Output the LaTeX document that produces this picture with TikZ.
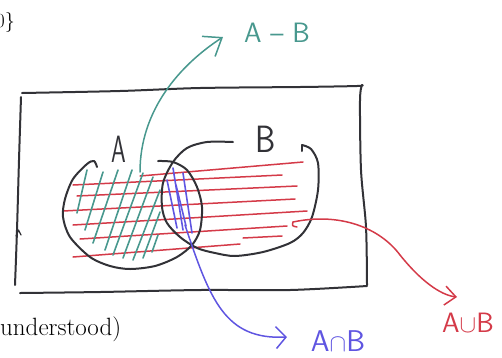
\documentclass[tikz,border=0pt]{standalone}
\usetikzlibrary{arrows.meta}
\definecolor{ink}{RGB}{50,50,55}
\definecolor{tealink}{RGB}{72,152,142}
\definecolor{redink}{RGB}{212,58,72}
\definecolor{blueink}{RGB}{95,85,225}
\begin{document}
\begin{tikzpicture}[x=1pt,y=-1pt,line cap=round,line join=round,
  outline/.style={draw=ink,line width=2pt},
  redhatch/.style={draw=redink,line width=1.5pt},
  tealhatch/.style={draw=tealink,line width=1.6pt},
  bluehatch/.style={draw=blueink,line width=1.6pt},
  hand/.style={font=\sffamily\fontsize{28}{30}\selectfont,inner sep=0pt},
  bighand/.style={font=\sffamily\fontsize{38}{40}\selectfont,inner sep=0pt},
  serif/.style={inner sep=0pt},
  arr/.style={line width=1.5pt}]
\useasboundingbox (0,0) rectangle (502,357);

% cropped text fragments
\node[serif,anchor=east,font=\fontsize{20}{24}\selectfont] (frag) at (15,22) {0\}};
\node[serif,anchor=base west,font=\fontsize{25}{30}\selectfont] (under) at (0,335) {understood)};

% universe rectangle (hand drawn)
\draw[outline] plot[smooth] coordinates {(22,93) (120,91) (200,88) (300,87) (357,86) (362,85)};
\draw[outline] plot[smooth] coordinates {(362,85) (360,100) (361,170) (366,227) (367,285)};
\draw[outline] plot[smooth] coordinates {(367,286) (290,290) (200,290) (100,292) (20,293)};
\draw[outline] plot[smooth] coordinates {(21,97) (19,160) (17,230) (15,285)};
\draw[outline,line width=1.3pt] (16,236) -- (18.5,230) -- (21,235);

% red hatching (A union B)
\draw[redhatch] (140,176) -- (303,162);
\draw[redhatch] (73,185) -- (282,175);
\draw[redhatch] (77,196) -- (297,186);
\draw[redhatch] (63,211) -- (295,199);
\draw[redhatch] (73,225) -- (307,211);
\draw[redhatch] (80,239) -- (287,226);
\draw[redhatch] (73,257) -- (240,244);
\draw[redhatch] (243,238) -- (282,236);

% teal hatching (A - B)
\draw[tealhatch] (87,170) -- (77,213);
\draw[tealhatch] (103,172) -- (85,230);
\draw[tealhatch] (118,170) -- (93,243);
\draw[tealhatch] (132,170) -- (105,250);
\draw[tealhatch] (143,173) -- (113,255);
\draw[tealhatch] (153,177) -- (123,258);
\draw[tealhatch] (160,190) -- (133,260);
\draw[tealhatch] (160,212) -- (143,258);
\draw[tealhatch] (158,235) -- (152,252);

% blue hatching (A intersect B)
\draw[bluehatch] (167,180) -- (177,228);
\draw[bluehatch] (173,168) -- (183,230);
\draw[bluehatch] (183,173) -- (192,233);
\draw[bluehatch] (176,185) -- (186,226);

% set A
\draw[outline] plot[smooth] coordinates {(97,167) (94,161) (87,164) (73,179) (65,199) (63,217) (70,237) (90,257) (110,266) (130,269) (155,266) (177,257) (192,245) (200,230) (202,207) (197,187) (187,170) (173,162) (158,161)};
% set B
\draw[outline] plot[smooth] coordinates {(233,142) (207,142) (187,148) (173,162) (163,183) (162,207) (167,223) (180,237) (197,248) (215,253) (235,256) (263,252) (290,243) (303,233) (312,217) (318,190) (318,163) (311,149) (302,145)};
\draw[outline] (302,145) -- (302,151);

% set labels
\node[bighand,text=ink,xscale=0.62] (labA) at (119,149) {A};
\node[bighand,text=ink,xscale=0.85] (labB) at (266,139) {B};

% result labels
\node[hand,text=tealink] (AminusB) at (277,33) {A -- B};
\node[hand,text=blueink,font=\sffamily\fontsize{30}{32}\selectfont] (AcapB) at (338,341) {A$\cap$B};
\node[hand,text=redink,anchor=west] (AcupB) at (442,323) {A$\cup$B};

% connectors
\coordinate (tstart) at (140,172);
\coordinate (tend) at (223,37);
\draw[arr,draw=tealink,-{Straight Barb[length=16pt,width=24pt,line width=1.5pt]}]
  (tstart) .. controls (140,110) and (180,65) .. (tend);

\coordinate (bstart) at (185,225);
\coordinate (bend) at (287,337);
\draw[arr,draw=blueink,-{Straight Barb[length=10pt,width=22pt,line width=1.5pt]}]
  (bstart) .. controls (210,300) and (225,340) .. (bend);

\coordinate (rstart) at (293,222);
\coordinate (rmid) at (400,255);
\coordinate (rend) at (457,297);
\draw[arr,draw=redink,-{Straight Barb[length=11pt,width=19pt,line width=1.5pt]}]
  (rstart) .. controls (340,212) and (380,228) .. (rmid)
  .. controls (420,280) and (440,295) .. (rend);
\draw[arr,draw=redink] (297,227) .. controls (292,226) .. (rstart);
\end{tikzpicture}
\end{document}
